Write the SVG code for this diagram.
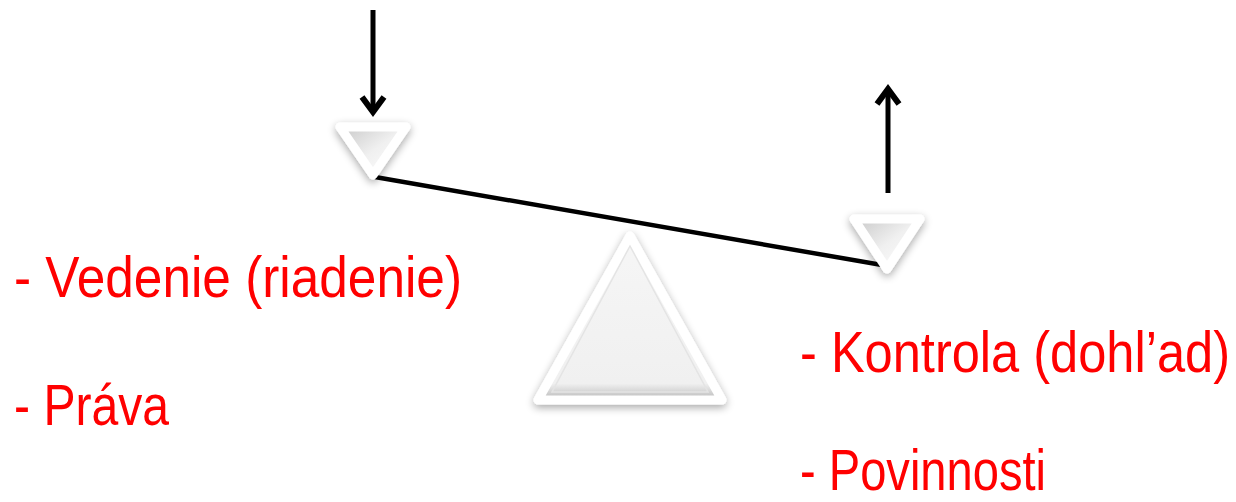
<svg xmlns="http://www.w3.org/2000/svg" width="1236" height="502" viewBox="0 0 1236 502">
  <defs>
    <filter id="sh" x="-30%" y="-30%" width="160%" height="160%">
      <feGaussianBlur in="SourceAlpha" stdDeviation="4"/>
      <feOffset dx="0" dy="3" result="b"/>
      <feComponentTransfer><feFuncA type="linear" slope="0.35"/></feComponentTransfer>
      <feMerge><feMergeNode/><feMergeNode in="SourceGraphic"/></feMerge>
    </filter>
    <linearGradient id="gin" x1="0" y1="0" x2="1" y2="1">
      <stop offset="0" stop-color="#c8c8c8"/>
      <stop offset="0.5" stop-color="#f0f0f0"/>
      <stop offset="1" stop-color="#ffffff"/>
    </linearGradient>
    <linearGradient id="gfl" x1="0" y1="0" x2="0" y2="1">
      <stop offset="0" stop-color="#f6f6f6"/>
      <stop offset="0.9" stop-color="#f0f0f0"/>
      <stop offset="1" stop-color="#b8b8b8"/>
    </linearGradient>
    <style>
      .lbl { font-family: "Liberation Sans", Arial, sans-serif; font-size: 51px; fill: #ff0000; }
      .arr { stroke: #000; stroke-width: 5; fill: none; }
      .head { stroke: #000; stroke-width: 6; fill: none; stroke-linejoin: miter; }
      .white { fill: none; stroke: #ffffff; stroke-width: 9; stroke-linejoin: round; }
    </style>
  </defs>

  <g id="connectors">
    <line id="beam" x1="375" y1="177" x2="882" y2="265" stroke="#000" stroke-width="4.5"/>
    <g id="arrow-down">
      <line class="arr" x1="373" y1="10" x2="373" y2="112"/>
      <polyline class="head" points="362,97 373,112 384,97"/>
    </g>
    <g id="arrow-up">
      <line class="arr" x1="888" y1="193" x2="888" y2="89"/>
      <polyline class="head" points="877,104 888,89 899,104"/>
    </g>
  </g>

  <g id="pan-left" filter="url(#sh)">
    <polygon points="340,127 406,127 373,175" fill="url(#gin)"/>
    <polygon class="white" points="340,127 406,127 373,175"/>
  </g>

  <g id="pan-right" filter="url(#sh)">
    <polygon points="854,219 920,219 887,269" fill="url(#gin)"/>
    <polygon class="white" points="854,219 920,219 887,269"/>
  </g>

  <g id="fulcrum" filter="url(#sh)">
    <polygon points="630,236 538,400 722,400" fill="url(#gfl)"/>
    <polygon class="white" points="630,236 538,400 722,400"/>
    <polygon points="630,246 552,392 708,392" fill="none" stroke="#e4e4e4" stroke-width="1.5"/>
  </g>

  <g id="left-labels">
    <text class="lbl" transform="translate(14,297) scale(1,1.12)" textLength="448" lengthAdjust="spacingAndGlyphs">- Vedenie (riadenie)</text>
    <text class="lbl" transform="translate(14,425) scale(1,1.12)" textLength="155" lengthAdjust="spacingAndGlyphs">- Práva</text>
  </g>

  <g id="right-labels">
    <text class="lbl" transform="translate(800,372) scale(1,1.12)" textLength="430" lengthAdjust="spacingAndGlyphs">- Kontrola (dohl’ad)</text>
    <text class="lbl" transform="translate(800,490) scale(1,1.12)" textLength="246" lengthAdjust="spacingAndGlyphs">- Povinnosti</text>
  </g>
</svg>
